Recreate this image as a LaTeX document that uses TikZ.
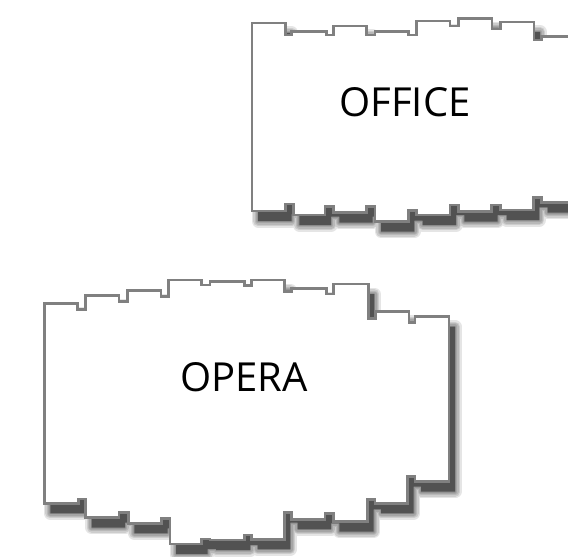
\documentclass[tikz,border=0pt]{standalone}
\usepackage{fontspec}
\setmainfont{Open Sans}
\def\officeoutline{(252,211) -- (252,23) -- (285.7,23) -- (285.7,35) -- (291.7,35) -- (291.7,31.7) -- (326.7,31.7) -- (326.7,35) -- (333.3,35) -- (333.3,26) -- (366.7,26) -- (366.7,35) -- (375,35) -- (375,31.7) -- (408.3,31.7) -- (408.3,35) -- (416.7,35) -- (416.7,21) -- (450,21) -- (450,26) -- (458.3,26) -- (458.3,18.3) -- (492,18.3) -- (492,29) -- (500.5,29) -- (500.5,22) -- (534,22) -- (534,40) -- (541.7,40) -- (541.7,36.7) -- (590,36.7) -- (590,202.7) -- (541.7,202.7) -- (541.7,197.3) -- (533.3,197.3) -- (533.3,210) -- (500.5,210) -- (500.5,205) -- (491.7,205) -- (491.7,211.7) -- (458.3,211.7) -- (458.3,205) -- (450,205) -- (450,215) -- (416.7,215) -- (416.7,210.7) -- (408.3,210.7) -- (408.3,221.7) -- (375,221.7) -- (375,206.7) -- (366.7,206.7) -- (366.7,212.7) -- (333.3,212.7) -- (333.3,206.7) -- (325,206.7) -- (325,215) -- (293.3,215) -- (293.3,204) -- (285.7,204) -- (285.7,211) -- cycle}
\def\operaoutline{(44.3,503.3) -- (44.3,303.3) -- (77.7,303.3) -- (77.7,309.3) -- (85.7,309.3) -- (85.7,295.3) -- (119,295.3) -- (119,301.7) -- (127.3,301.7) -- (127.3,290.7) -- (161,290.7) -- (161,296.7) -- (168.3,296.7) -- (168.3,280) -- (201.7,280) -- (201.7,285) -- (210,285) -- (210,281.7) -- (244.3,281.7) -- (244.3,285.7) -- (251.7,285.7) -- (251.7,280) -- (284.3,280) -- (284.3,291.7) -- (291.7,291.7) -- (291.7,288.3) -- (326.7,288.3) -- (326.7,294) -- (333.3,294) -- (333.3,284) -- (368.3,284) -- (368.3,318.3) -- (375.7,318.3) -- (375.7,311.7) -- (409,311.7) -- (409,322.7) -- (415,322.7) -- (415,316.7) -- (449,316.7) -- (449,481.7) -- (415,481.7) -- (415,476.7) -- (407.7,476.7) -- (407.7,503.3) -- (375,503.3) -- (375,499.3) -- (367.7,499.3) -- (367.7,521.7) -- (333.3,521.7) -- (333.3,513.3) -- (325,513.3) -- (325,519.3) -- (291.7,519.3) -- (291.7,512.7) -- (284.3,512.7) -- (284.3,539.3) -- (251.7,539.3) -- (251.7,535) -- (244.3,535) -- (244.3,540) -- (210,540) -- (210,539) -- (201.7,539) -- (201.7,544) -- (170,544) -- (170,518.3) -- (161.7,518.3) -- (161.7,523.3) -- (128.3,523.3) -- (128.3,512.7) -- (119,512.7) -- (119,517.7) -- (85.7,517.7) -- (85.7,499) -- (78.3,499) -- (78.3,503.3) -- cycle}
\tikzset{
  outline/.style={draw=black!50, line width=2.6bp, fill=white, line join=miter},
  shadowcore/.style={fill=black!68},
  shadowhalo/.style={draw=black, line join=round, line cap=round, opacity=0.1},
  lbl/.style={inner sep=0pt, text=black, font=\fontsize{40bp}{48bp}\selectfont}
}
\newcommand\castshadow[1]{%
  \begin{scope}[shift={(6,10)}]
    \foreach \w in {13,10,7,4.5,2} {\draw[shadowhalo, line width=\w bp] #1;}
    \fill[shadowcore] #1;
  \end{scope}}
\begin{document}
\begin{tikzpicture}[x=1bp,y=-1bp]
  \useasboundingbox (0,0) rectangle (568,557);
  \clip (0,0) rectangle (568,557);
  \fill[white] (0,0) rectangle (568,557);
  \castshadow{\officeoutline}
  \castshadow{\operaoutline}
  \draw[outline] \officeoutline;
  \draw[outline] \operaoutline;
  \node[lbl] (office) at (405,102.3) {OFFICE};
  \node[lbl] (opera) at (243.8,377) {OPERA};
\end{tikzpicture}
\end{document}
